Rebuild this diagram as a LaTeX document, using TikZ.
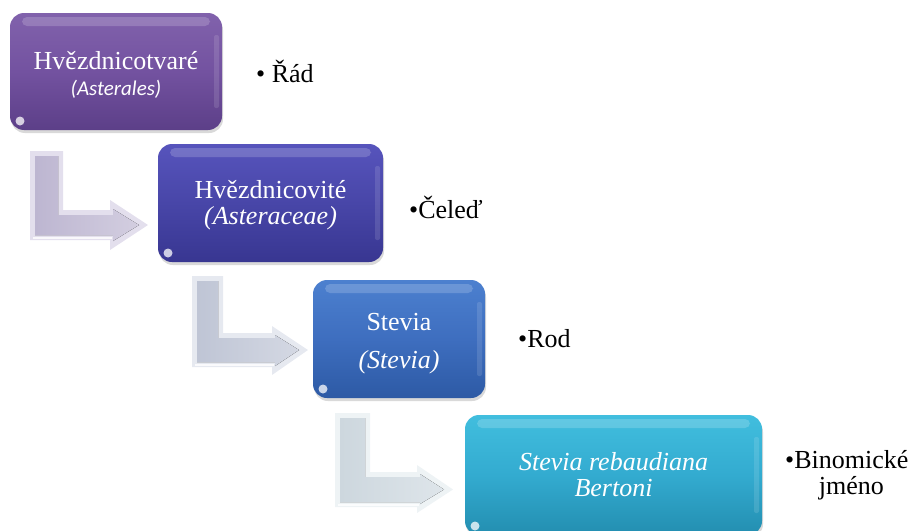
\documentclass[tikz,border=0pt]{standalone}
\usepackage{fontspec}
\setmainfont{Liberation Serif}
\newfontfamily\carl{Carlito}
\usetikzlibrary{shadows,calc}
\definecolor{pA}{HTML}{8162AC}\definecolor{pB}{HTML}{7352A0}\definecolor{pC}{HTML}{5C3F88}
\definecolor{iA}{HTML}{5754BC}\definecolor{iB}{HTML}{4846A8}\definecolor{iC}{HTML}{383691}
\definecolor{bA}{HTML}{4C80CF}\definecolor{bB}{HTML}{3E6EBF}\definecolor{bC}{HTML}{2D5AA5}
\definecolor{cA}{HTML}{41BEDE}\definecolor{cB}{HTML}{33ABD0}\definecolor{cC}{HTML}{238EB0}
\definecolor{arrL}{HTML}{E3DFED}\definecolor{arrM}{HTML}{BDB6D1}\definecolor{arrR}{HTML}{D3CEE0}
\tikzset{
  taxbox/.style={draw=none, rounded corners=14pt, text=white, align=center,
    font=\fontsize{26}{30}\selectfont, inner sep=0pt,
    drop shadow={opacity=0.3, shadow xshift=1pt, shadow yshift=-3pt},
    path picture={
      \fill[white,opacity=0.18,rounded corners=5pt]
        ($(path picture bounding box.north west)+(12,4)$) rectangle
        ($(path picture bounding box.north east)+(-12,13)$);
      \fill[white,opacity=0.12,rounded corners=2pt]
        ($(path picture bounding box.north east)+(-8,22)$) rectangle
        ($(path picture bounding box.south east)+(-3,-22)$);
      \fill[white,opacity=0.75]
        ($(path picture bounding box.south west)+(10,-9)$) circle (4.5pt);
    }},
  lbl/.style={anchor=west, text=black, font=\fontsize{26}{30}\selectfont, inner sep=0pt},
  arrouter/.style={fill=arrL},
  arrinner/.style={left color=arrM, right color=arrR},
}
\newcommand\Larr[9]{%
  \fill[arrouter] (#1,#3) -- (#2,#3) -- (#2,#4) -- (#6,#4) -- (#6,#7) --
    (#9,{(#4+#5)/2}) -- (#6,#8) -- (#6,#5) -- (#1,#5) -- cycle;
  \fill[arrinner] ({#1+5},{#3+5}) -- ({#2-5},{#3+5}) -- ({#2-5},{#4+5}) --
    ({#6+3},{#4+5}) -- ({#6+3},{#7+9}) -- ({#9-9},{(#4+#5)/2}) --
    ({#6+3},{#8-9}) -- ({#6+3},{#5-5}) -- ({#1+5},{#5-5}) -- cycle;
  \draw[white,opacity=0.8,line width=1.2pt] ({#1+3},{#5-2}) -- ({#6+2},{#5-2});
}
\begin{document}
\begin{tikzpicture}[x=1pt,y=-1pt]
\useasboundingbox (0,0) rectangle (918,530);
% arrows
\definecolor{arrL}{HTML}{E3DFED}\definecolor{arrM}{HTML}{BDB6D1}\definecolor{arrR}{HTML}{D3CEE0}
\Larr{30}{63}{151}{210}{240}{110}{200}{250}{148}
\definecolor{arrL}{HTML}{E6E9F0}\definecolor{arrM}{HTML}{BFC5D5}\definecolor{arrR}{HTML}{D4D8E3}
\Larr{192}{223}{276}{333}{367}{272}{326}{375}{308}
\definecolor{arrL}{HTML}{EEF3F5}\definecolor{arrM}{HTML}{CDD7DE}\definecolor{arrR}{HTML}{DEE5EA}
\Larr{335}{370}{413}{472}{507}{417}{465}{513}{453}
% boxes
\node[taxbox, top color=pA, bottom color=pC, middle color=pB,
  minimum width=212pt, minimum height=117pt] (b1) at (116,71.5)
  {\rule{0pt}{24pt}Hvězdnicotvaré\\[-4pt]{\carl\itshape\fontsize{21}{24}\selectfont (Asterales)}};
\node[taxbox, top color=iA, bottom color=iC, middle color=iB,
  minimum width=225pt, minimum height=118pt] (b2) at (270.5,203)
  {\rule{0pt}{22pt}Hvězdnicovité\\[-4pt]\textit{(Asteraceae)}};
\node[taxbox, top color=bA, bottom color=bC, middle color=bB,
  minimum width=172pt, minimum height=118pt] (b3) at (399,339)
  {\rule{0pt}{27pt}Stevia\\[8pt]\textit{(Stevia)}};
\node[taxbox, top color=cA, bottom color=cC, middle color=cB,
  minimum width=297pt, minimum height=120pt] (b4) at (613.5,475)
  {\textit{Stevia rebaudiana}\\[-4pt]\textit{Bertoni}};
% labels
\node[lbl] (l1) at (256,71) {\textbullet\ Řád};
\node[lbl] (l2) at (409,207) {\textbullet Čeleď};
\node[lbl] (l3) at (518,339) {\textbullet Rod};
\node[lbl, anchor=north west] (l4) at (785,447)
  {\textbullet\begin{tabular}[t]{@{}c@{}}Binomické\\[-4pt]jméno\end{tabular}};
\end{tikzpicture}
\end{document}
